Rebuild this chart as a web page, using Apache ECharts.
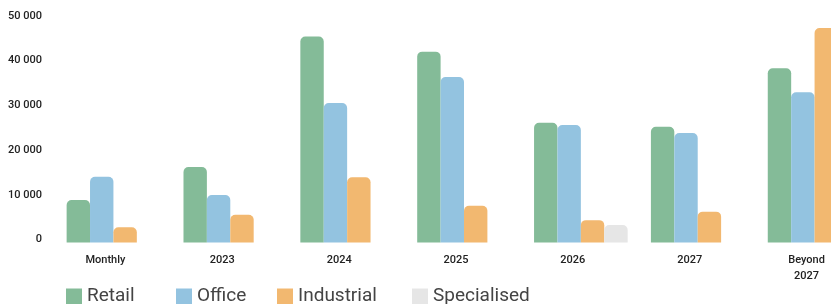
<!DOCTYPE html>
<html lang="en" style="height: 100%">
<head>
    <meta charset="utf-8">
    <title>Supply by year</title>
    <script src="https://cdn.jsdelivr.net/npm/echarts@6/dist/echarts.min.js"></script>
</head>
<body style="height: 100%; margin: 0">
    <div id="main" style="width: 831px; height: 304px"></div>
    <script>
        // data
        const categories = ['Monthly', '2023', '2024', '2025', '2026', '2027', 'Beyond\n2027'];
        const retail = [9500, 16900, 46100, 42700, 26800, 25900, 39000];
        const office = [14700, 10600, 31200, 37000, 26300, 24500, 33600];
        const industrial = [3400, 6200, 14600, 8200, 5000, 6900, 48000];
        const specialised = ['-', '-', '-', '-', 3900, '-', '-'];
        const yTicks = [0, 10000, 20000, 30000, 40000, 50000];

        const names = ['Retail', 'Office', 'Industrial', 'Specialised'];
        const colors = ['#84bb98', '#93c3e0', '#f2b870', '#e6e6e6'];
        const values = [retail, office, industrial, specialised];
        const legendLeft = [66, 176, 277, 412];

        const chart = echarts.init(document.getElementById('main'), null, { renderer: 'canvas' });

        const option = {
            animation: false,
            textStyle: { fontFamily: 'Roboto' },
            // the last group runs off the right edge in the original
            grid: { left: 55, top: 19, width: 818, height: 223.5, outerBoundsMode: 'none' },
            legend: names.map((n, i) => ({
                data: [n],
                left: legendLeft[i],
                top: 287,
                padding: 0,
                itemWidth: 16,
                itemHeight: 16,
                itemGap: 10,
                icon: 'rect',
                textStyle: { fontSize: 19, color: '#444', fontFamily: 'Roboto', padding: [3, 0, 0, 0] }
            })),
            xAxis: {
                type: 'category',
                data: categories,
                axisLine: { show: false },
                axisTick: { show: false },
                axisLabel: {
                    color: '#222',
                    fontSize: 11,
                    fontWeight: 500,
                    margin: 10,
                    lineHeight: 16,
                    padding: [0, 16, 0, 0]
                }
            },
            yAxis: {
                type: 'value',
                min: yTicks[0],
                max: yTicks[yTicks.length - 1],
                interval: 10000,
                splitLine: { show: false },
                axisLabel: {
                    color: '#222',
                    fontSize: 11,
                    fontWeight: 500,
                    margin: 13,
                    verticalAlign: 'bottom',
                    lineHeight: 6,
                    formatter: v => String(v).replace(/\B(?=(\d{3})+(?!\d))/g, ' ')
                }
            },
            series: names.map((n, i) => ({
                name: n,
                type: 'bar',
                data: values[i],
                barWidth: 23.4,
                barGap: '0%',
                itemStyle: { color: colors[i], borderRadius: [5, 5, 0, 0] }
            }))
        };

        chart.setOption(option);
    </script>
</body>
</html>
